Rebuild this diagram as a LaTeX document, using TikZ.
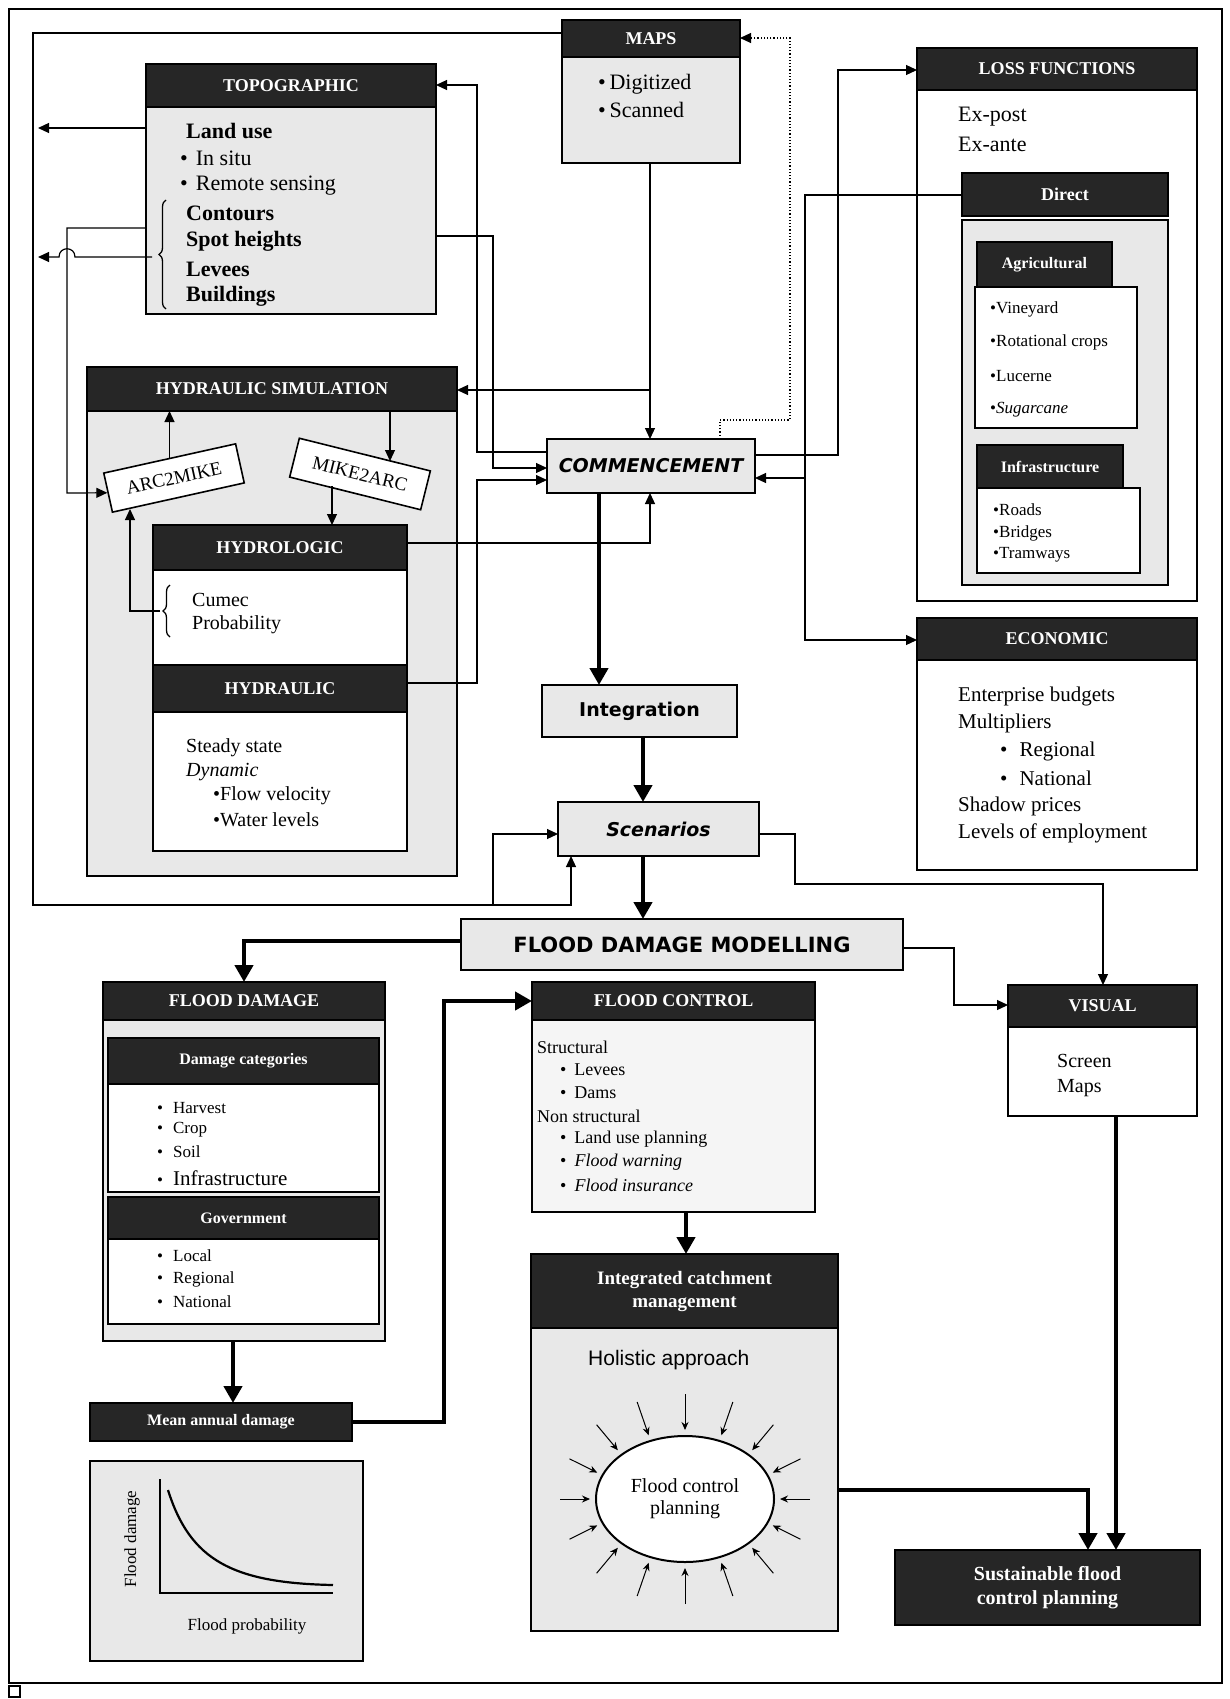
\documentclass[tikz,border=0pt]{standalone}
\usepackage{fontspec}
\setmainfont{Liberation Serif}
\newfontfamily\sansA{Liberation Sans}
\newfontfamily\comicA{DejaVu Sans}
\usetikzlibrary{arrows.meta,decorations.pathreplacing,shapes.geometric}
\newcommand\fsA{\fontsize{22}{24}\selectfont}
\newcommand\fsB{\fontsize{20}{22}\selectfont}
\newcommand\fsC{\fontsize{18}{20}\selectfont}
\newcommand\fsD{\fontsize{17}{19}\selectfont}
\newcommand\fsE{\fontsize{21}{23}\selectfont}
\newcommand\fsH{\fontsize{18}{20}\selectfont}
\begin{document}
\begin{tikzpicture}[x=1pt,y=-1pt,
  bx/.style={draw, line width=1.6pt, anchor=north west, inner sep=0pt, outer sep=0pt},
  gbox/.style={bx, fill=black!9},
  wbox/.style={bx, fill=white},
  hdr/.style={bx, fill=black!85, text=white, font=\bfseries\fsH, align=center},
  txt/.style={anchor=west, inner sep=0pt},
  rbx/.style={draw, fill=white, line width=1.6pt, minimum width=135pt, minimum height=40pt, inner sep=0pt, font=\fontsize{19}{21}\selectfont},
  arr/.style={line width=1.2pt, -{Triangle[length=11pt,width=10pt]}},
  thk/.style={line width=4.5pt, -{Triangle[length=17pt,width=18pt]}},
  brc/.style={decorate, decoration={brace, amplitude=7pt}, line width=1.3pt}]
\useasboundingbox (0,0) rectangle (1230,1699);
\fill[white] (0,0) rectangle (1230,1699);
\draw[line width=1.6pt] (9,9) rectangle (1222,1683);
\draw[line width=1.2pt] (9,1686) rectangle (20,1697);

% ---------- MAPS ----------
\node[gbox, minimum width=178pt, minimum height=143pt] (maps) at (562,20) {};
\node[hdr, minimum width=178pt, minimum height=37pt] (mapsh) at (562,20) {MAPS};
\node[txt, font=\fsA] (dig) at (598,84) {•\,Digitized};
\node[txt, font=\fsA] (scan) at (598,110) {•\,Scanned};

% ---------- TOPOGRAPHIC ----------
\node[gbox, minimum width=290pt, minimum height=250pt] (topo) at (146,64) {};
\node[hdr, minimum width=290pt, minimum height=43pt] (topoh) at (146,64) {TOPOGRAPHIC};
\node[txt, font=\fsA\bfseries] (lu) at (186,131) {Land use};
\node[txt, font=\fsA] (insitu) at (180,158) {•\hspace{8pt}In situ};
\node[txt, font=\fsA] (rs) at (180,186) {•\hspace{8pt}Remote sensing};
\node[txt, font=\fsA\bfseries] (cont) at (186,213) {Contours};
\node[txt, font=\fsA\bfseries] (spot) at (186,241) {Spot heights};
\node[txt, font=\fsA\bfseries] (lev) at (186,269) {Levees};
\node[txt, font=\fsA\bfseries] (bld) at (186,296) {Buildings};
\draw[brc] (166,309) -- (166,200);

% ---------- HYDRAULIC SIMULATION ----------
\node[gbox, minimum width=370pt, minimum height=509pt] (hs) at (87,367) {};
\node[hdr, minimum width=370pt, minimum height=44pt] (hsh) at (87,367) {HYDRAULIC SIMULATION};
\node[rbx, rotate=12.5] (arc) at (174,478) {ARC2MIKE};
\node[rbx, rotate=-14] (mike) at (360,474) {MIKE2ARC};
\node[wbox, minimum width=254pt, minimum height=140pt] (hydl) at (153,525) {};
\node[hdr, minimum width=254pt, minimum height=45pt] (hydlh) at (153,525) {HYDROLOGIC};
\node[txt, font=\fsB] (cum) at (192,600) {Cumec};
\node[txt, font=\fsB] (prob) at (192,625) {Probability};
\draw[brc] (170,637) -- (170,585);
\node[wbox, minimum width=254pt, minimum height=186pt] (hydr) at (153,665) {};
\node[hdr, minimum width=254pt, minimum height=47pt] (hydrh) at (153,665) {HYDRAULIC};
\node[txt, font=\fsB] (ss) at (186,748) {Steady state};
\node[txt, font=\fsB\itshape] (dyn) at (186,772) {Dynamic};
\node[txt, font=\fsB] (fv) at (213,796) {•Flow velocity};
\node[txt, font=\fsB] (wl) at (213,820) {•Water levels};
\draw[arr] (arc.north) -- (arc.north |- hsh.south);
\draw[arr] (hsh.south -| 390,0) -- (390,461);
\draw[arr] (332,486) -- (hydlh.north -| 332,0);
\draw[arr] (160,611) -- (130,611) -- (130,509);

% ---------- central boxes ----------
\node[gbox, minimum width=208pt, minimum height=54pt, font=\comicA\bfseries\itshape\fontsize{19}{21}\selectfont] (comm) at (547,439) {COMMENCEMENT};
\node[gbox, minimum width=195pt, minimum height=52pt, font=\comicA\bfseries\fontsize{19}{21}\selectfont] (integ) at (542,685) {Integration};
\node[gbox, minimum width=201pt, minimum height=54pt, font=\comicA\bfseries\itshape\fontsize{19}{21}\selectfont] (scen) at (558,802) {Scenarios};
\node[gbox, minimum width=442pt, minimum height=51pt, font=\comicA\bfseries\fontsize{21}{23}\selectfont] (fdm) at (461,919) {FLOOD DAMAGE MODELLING};

% ---------- LOSS FUNCTIONS ----------
\node[wbox, minimum width=280pt, minimum height=553pt] (lf) at (917,48) {};
\node[hdr, minimum width=280pt, minimum height=42pt] (lfh) at (917,48) {LOSS FUNCTIONS};
\node[txt, font=\fsA] (expost) at (958,117) {Ex-post};
\node[txt, font=\fsA] (exante) at (958,144) {Ex-ante};
\node[gbox, minimum width=206pt, minimum height=365pt] (direct) at (962,220) {};
\node[hdr, minimum width=206pt, minimum height=43pt] (directh) at (962,173) {Direct};
\node[wbox, minimum width=162pt, minimum height=141pt] (agri) at (975,287) {};
\node[hdr, minimum width=135pt, minimum height=45pt, font=\bfseries\fontsize{16}{18}\selectfont] (agrih) at (977,242) {Agricultural};
\node[txt, font=\fsD] (vin) at (990,309) {•Vineyard};
\node[txt, font=\fsD] (rot) at (990,342) {•Rotational crops};
\node[txt, font=\fsD] (luc) at (990,376) {•Lucerne};
\node[txt, font=\fsD] (sug) at (990,410) {•\textit{Sugarcane}};
\node[wbox, minimum width=163pt, minimum height=85pt] (infra) at (977,488) {};
\node[hdr, minimum width=146pt, minimum height=43pt, font=\bfseries\fontsize{16}{18}\selectfont] (infrah) at (977,445) {Infrastructure};
\node[txt, font=\fsD] (roads) at (993,510) {•Roads};
\node[txt, font=\fsD] (bridges) at (993,533) {•Bridges};
\node[txt, font=\fsD] (tram) at (993,555) {•Tramways};

% ---------- ECONOMIC ----------
\node[wbox, minimum width=280pt, minimum height=252pt] (eco) at (917,618) {};
\node[hdr, minimum width=280pt, minimum height=42pt] (ecoh) at (917,618) {ECONOMIC};
\node[txt, font=\fsE] (ent) at (958,696) {Enterprise budgets};
\node[txt, font=\fsE] (mult) at (958,723) {Multipliers};
\node[txt, font=\fsE] (reg) at (1000,751) {•\hspace{12pt}Regional};
\node[txt, font=\fsE] (nat) at (1000,778) {•\hspace{12pt}National};
\node[txt, font=\fsE] (shadow) at (958,806) {Shadow prices};
\node[txt, font=\fsE] (empl) at (958,833) {Levels of employment};

% ---------- VISUAL ----------
\node[wbox, minimum width=189pt, minimum height=131pt] (vis) at (1008,985) {};
\node[hdr, minimum width=189pt, minimum height=42pt] (vish) at (1008,985) {VISUAL};
\node[txt, font=\fsB] (screen) at (1057,1061) {Screen};
\node[txt, font=\fsB] (mapsv) at (1057,1088) {Maps};

% ---------- FLOOD DAMAGE ----------
\node[gbox, minimum width=282pt, minimum height=359pt] (fd) at (103,982) {};
\node[hdr, minimum width=282pt, minimum height=38pt] (fdh) at (103,982) {FLOOD DAMAGE};
\node[wbox, minimum width=271pt, minimum height=108pt] (dc) at (108,1084) {};
\node[hdr, minimum width=271pt, minimum height=46pt, font=\bfseries\fontsize{16}{18}\selectfont] (dch) at (108,1038) {Damage categories};
\node[txt, font=\fsD] (harv) at (157,1108) {•\hspace{10pt}Harvest};
\node[txt, font=\fsD] (crop) at (157,1130) {•\hspace{10pt}Crop};
\node[txt, font=\fsD] (soil) at (157,1152) {•\hspace{10pt}Soil};
\node[txt, font=\fsD] (infd) at (157,1178) {•\hspace{10pt}{\fsE Infrastructure}};
\node[wbox, minimum width=271pt, minimum height=85pt] (gov) at (108,1239) {};
\node[hdr, minimum width=271pt, minimum height=42pt, font=\bfseries\fontsize{16}{18}\selectfont] (govh) at (108,1197) {Government};
\node[txt, font=\fsD] (loc) at (157,1256) {•\hspace{10pt}Local};
\node[txt, font=\fsD] (regg) at (157,1279) {•\hspace{10pt}Regional};
\node[txt, font=\fsD] (natg) at (157,1302) {•\hspace{10pt}National};

% ---------- Mean annual damage ----------
\node[hdr, minimum width=262pt, minimum height=38pt, font=\bfseries\fontsize{16}{18}\selectfont] (mad) at (90,1403) {Mean annual damage};
\node[gbox, minimum width=273pt, minimum height=200pt] (graph) at (90,1461) {};
\draw[line width=2.2pt] (160,1479) -- (160,1593) -- (333,1593);
\draw[line width=2.2pt] (168,1490) .. controls (190,1560) and (232,1583) .. (333,1585);
\node[rotate=90, font=\fsD] (ylab) at (132,1539) {Flood damage};
\node[font=\fsD] (xlab) at (247,1626) {Flood probability};

% ---------- FLOOD CONTROL ----------
\node[wbox, fill=black!4, minimum width=283pt, minimum height=230pt] (fc) at (532,982) {};
\node[hdr, minimum width=283pt, minimum height=38pt] (fch) at (532,982) {FLOOD CONTROL};
\node[txt, font=\fsC] (struct) at (537,1047) {Structural};
\node[txt, font=\fsC] (flev) at (560,1070) {•\hspace{8pt}Levees};
\node[txt, font=\fsC] (fdam) at (560,1093) {•\hspace{8pt}Dams};
\node[txt, font=\fsC] (nstruct) at (537,1116) {Non structural};
\node[txt, font=\fsC] (lup) at (560,1139) {•\hspace{8pt}Land use planning};
\node[txt, font=\fsC] (fw) at (560,1162) {•\hspace{8pt}\textit{Flood warning}};
\node[txt, font=\fsC] (fi) at (560,1185) {•\hspace{8pt}\textit{Flood insurance}};

% ---------- Integrated catchment management ----------
\node[gbox, minimum width=307pt, minimum height=377pt] (icm) at (531,1254) {};
\node[hdr, minimum width=307pt, minimum height=74pt, font=\bfseries\fontsize{19}{23}\selectfont] (icmh) at (531,1254) {Integrated catchment\\management};
\node[txt, font=\sansA\fontsize{21}{23}\selectfont] (hol) at (588,1360) {Holistic approach};
\node[draw, fill=white, ellipse, line width=2pt, minimum width=178pt, minimum height=126pt, inner sep=0pt, align=center, font=\fsB] (fcp) at (685,1499) {Flood control\\planning};
\foreach \a in {0,22.5,...,337.5}
  \draw[line width=1pt, -{Stealth[length=8pt,width=7pt]}] ({685+125*cos(\a)},{1499+105*sin(\a)}) -- ({685+95*cos(\a)},{1499+69*sin(\a)});

% ---------- Sustainable ----------
\node[hdr, minimum width=305pt, minimum height=75pt, font=\bfseries\fontsize{20}{24}\selectfont] (sus) at (895,1550) {Sustainable flood\\control planning};

% ---------- connectors ----------
\draw[arr] (mapsh.west |- 0,33) -- (33,33) -- (33,905) -- (571,905) -- (scen.south -| 571,0);
\draw[arr] (493,905) -- (493,834) -- (scen.west |- 0,834);
\draw[arr] (topo.west |- 0,128) -- (38,128);
\draw[arr] (152,257) -- (75,257) .. controls (75,246) and (59,246) .. (59,257) -- (38,257);
\draw[arr] (topo.west |- 0,228) -- (67,228) -- (67,493) -- (arc.west);
\draw[arr] (maps.south -| 650,0) -- (comm.north -| 650,0);
\draw[arr] (650,390) -- (hsh.east |- 0,390);
\draw[arr] (comm.west |- 0,452) -- (477,452) -- (477,85) -- (topoh.east |- 0,85);
\draw[arr] (topo.east |- 0,236) -- (493,236) -- (493,468) -- (comm.west |- 0,468);
\draw[arr] (hydrh.east |- 0,683) -- (477,683) -- (477,480) -- (comm.west |- 0,480);
\draw[arr] (hydlh.east |- 0,543) -- (650,543) -- (comm.south -| 650,0);
\draw[arr] (comm.east |- 0,455) -- (838,455) -- (838,70) -- (lfh.west |- 0,70);
\draw[arr] (directh.west |- 0,195) -- (805,195) -- (805,640) -- (ecoh.west |- 0,640);
\draw[arr] (805,478) -- (comm.east |- 0,478);
\draw[arr, dotted] (comm.north -| 720,0) -- (720,420) -- (790,420) -- (790,38) -- (mapsh.east |- 0,38);

\draw[thk] (comm.south -| 599,0) -- (integ.north -| 599,0);
\draw[thk] (integ.south -| 643,0) -- (scen.north -| 643,0);
\draw[thk] (scen.south -| 643,0) -- (fdm.north -| 643,0);
\draw[arr] (scen.east |- 0,834) -- (795,834) -- (795,884) -- (1103,884) -- (vish.north -| 1103,0);
\draw[arr] (fdm.east |- 0,948) -- (954,948) -- (954,1005) -- (vish.west |- 0,1005);
\draw[thk] (fdm.west |- 0,941) -- (244,941) -- (fdh.north -| 244,0);
\draw[thk] (fd.south -| 233,0) -- (mad.north -| 233,0);
\draw[thk] (mad.east |- 0,1422) -- (444,1422) -- (444,1001) -- (fch.west |- 0,1001);
\draw[thk] (fc.south -| 686,0) -- (icmh.north -| 686,0);
\draw[thk] (icm.east |- 0,1490) -- (1088,1490) -- (sus.north -| 1088,0);
\draw[thk] (vis.south -| 1116,0) -- (sus.north -| 1116,0);
\end{tikzpicture}
\end{document}
